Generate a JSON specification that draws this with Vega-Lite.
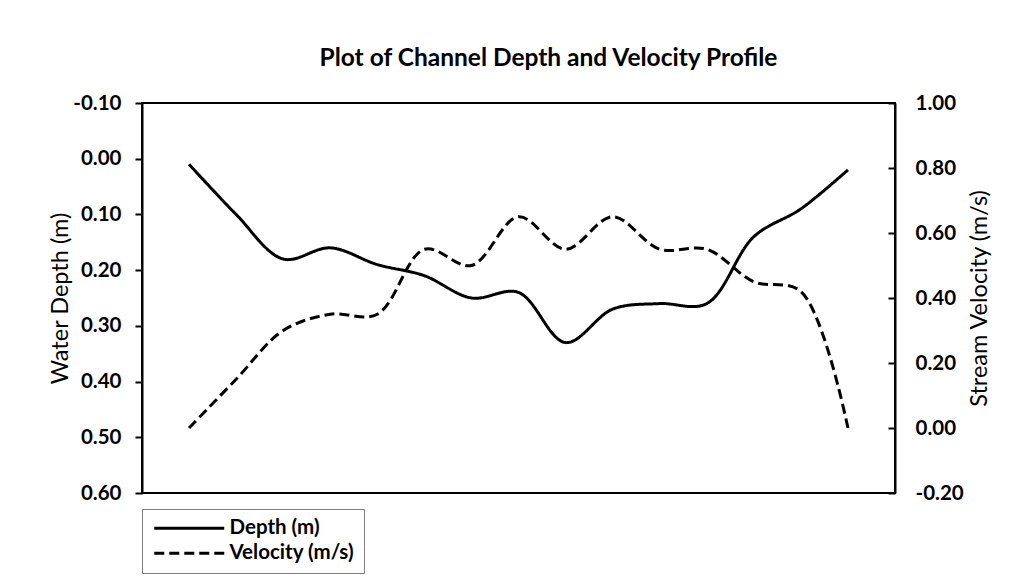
{
  "$schema": "https://vega.github.io/schema/vega-lite/v6.json",
  "width": 753,
  "height": 390,
  "autosize": {"type": "none"},
  "padding": {"left": 142, "top": 103, "right": 130, "bottom": 92},
  "background": "white",
  "title": {
    "text": "Plot of Channel Depth and Velocity Profile",
    "font": "Lato",
    "fontSize": 24.5,
    "fontWeight": "bold",
    "color": "black",
    "anchor": "middle",
    "dx": 30,
    "offset": 22
  },
  "data": {
    "values": [
      {"pos": 1, "depth": 0.01, "velocity": 0.0},
      {"pos": 2, "depth": 0.1, "velocity": 0.15},
      {"pos": 3, "depth": 0.18, "velocity": 0.3},
      {"pos": 4, "depth": 0.16, "velocity": 0.35},
      {"pos": 5, "depth": 0.19, "velocity": 0.35},
      {"pos": 6, "depth": 0.21, "velocity": 0.55},
      {"pos": 7, "depth": 0.25, "velocity": 0.5},
      {"pos": 8, "depth": 0.24, "velocity": 0.65},
      {"pos": 9, "depth": 0.33, "velocity": 0.55},
      {"pos": 10, "depth": 0.27, "velocity": 0.65},
      {"pos": 11, "depth": 0.26, "velocity": 0.55},
      {"pos": 12, "depth": 0.26, "velocity": 0.55},
      {"pos": 13, "depth": 0.14, "velocity": 0.45},
      {"pos": 14, "depth": 0.09, "velocity": 0.42},
      {"pos": 15, "depth": 0.02, "velocity": 0.0}
    ]
  },
  "encoding": {
    "x": {
      "field": "pos",
      "type": "quantitative",
      "scale": {"domain": [0, 16], "nice": false, "zero": false},
      "axis": null
    }
  },
  "layer": [
    {
      "mark": {"type": "line", "interpolate": "catmull-rom", "strokeWidth": 3, "color": "black", "strokeCap": "butt"},
      "encoding": {
        "y": {
          "field": "depth",
          "type": "quantitative",
          "scale": {"domain": [-0.1, 0.6], "reverse": true, "nice": false, "zero": false},
          "axis": {
            "orient": "left",
            "values": [-0.1, 0, 0.1, 0.2, 0.3, 0.4, 0.5, 0.6],
            "labelExpr": "replace(format(datum.value, '.2f'), '\u2212', '-')",
            "title": "Water Depth (m)",
            "tickSize": 7,
            "labelPadding": 14,
            "titlePadding": 0
          }
        },
        "strokeDash": {
          "datum": "Depth (m)",
          "type": "nominal",
          "scale": {"domain": ["Depth (m)", "Velocity (m/s)"], "range": [[1, 0], [10, 5]]}
        }
      }
    },
    {
      "mark": {"type": "line", "interpolate": "catmull-rom", "strokeWidth": 3, "color": "black", "strokeCap": "butt"},
      "encoding": {
        "y": {
          "field": "velocity",
          "type": "quantitative",
          "scale": {"domain": [-0.2, 1.0], "nice": false, "zero": false},
          "axis": {
            "orient": "right",
            "values": [-0.2, 0, 0.2, 0.4, 0.6, 0.8, 1.0],
            "labelExpr": "replace(format(datum.value, '.2f'), '\u2212', '-')",
            "title": "Stream Velocity  (m/s)",
            "titleAngle": 270,
            "titleBaseline": "top",
            "tickSize": -7,
            "labelPadding": 27,
            "titlePadding": 4
          }
        },
        "strokeDash": {"datum": "Velocity (m/s)", "type": "nominal"}
      }
    }
  ],
  "resolve": {"scale": {"y": "independent"}},
  "config": {
    "view": {"stroke": "black", "strokeWidth": 2},
    "axis": {
      "grid": false,
      "domainColor": "black",
      "domainWidth": 2,
      "tickColor": "black",
      "tickWidth": 2,
      "labelFont": "Lato",
      "labelFontSize": 20.5,
      "labelFontWeight": "bold",
      "labelColor": "black",
      "titleFont": "Lato",
      "titleFontSize": 23.5,
      "titleFontWeight": "normal",
      "titleColor": "black"
    },
    "legend": {
      "orient": "none",
      "legendX": 0,
      "legendY": 406,
      "title": null,
      "strokeColor": "#7f7f7f",
      "padding": 9,
      "symbolType": "M-1,0H9",
      "symbolSize": 196,
      "symbolStrokeWidth": 3,
      "symbolStrokeColor": "black",
      "symbolFillColor": "transparent",
      "labelOffset": 58,
      "labelFont": "Lato",
      "labelFontSize": 20.5,
      "labelFontWeight": "bold",
      "labelColor": "black",
      "rowPadding": 4
    }
  }
}
